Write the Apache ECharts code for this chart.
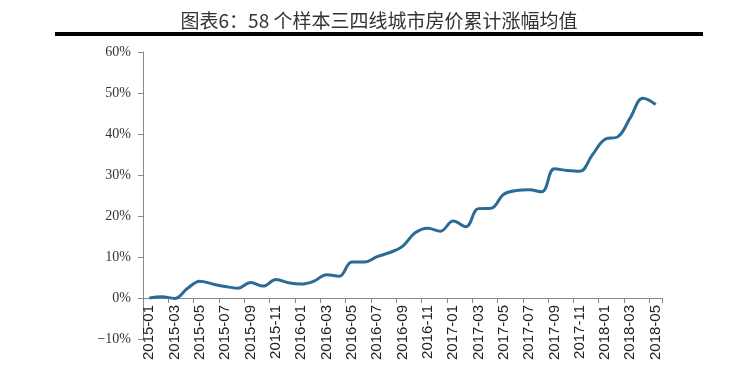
<!DOCTYPE html>
<html>
<head>
<meta charset="utf-8">
<script src="https://cdn.jsdelivr.net/npm/echarts@6/dist/echarts.min.js"></script>
<style>
html,body{margin:0;padding:0;background:#fff;}
#main{width:748px;height:385px;}
</style>
</head>
<body>
<div id="main"></div>
<script>
var titleText = '图表6：58 个样本三四线城市房价累计涨幅均值';
var categories = [
  '2015-01','2015-02','2015-03','2015-04','2015-05','2015-06','2015-07','2015-08','2015-09','2015-10','2015-11','2015-12',
  '2016-01','2016-02','2016-03','2016-04','2016-05','2016-06','2016-07','2016-08','2016-09','2016-10','2016-11','2016-12',
  '2017-01','2017-02','2017-03','2017-04','2017-05','2017-06','2017-07','2017-08','2017-09','2017-10','2017-11','2017-12',
  '2018-01','2018-02','2018-03','2018-04','2018-05'
];
var values = [
  0.0, 0.3, -0.1, 2.3, 4.1, 3.4, 2.8, 2.4, 3.8, 2.9, 4.5, 3.7,
  3.4, 4.1, 5.7, 5.3, 8.8, 8.8, 10.1, 11.1, 12.6, 15.9, 17.0, 16.3,
  18.8, 17.4, 21.8, 21.9, 25.3, 26.2, 26.4, 25.9, 31.5, 31.1, 30.9, 34.9,
  38.7, 39.3, 44.0, 48.7, 47.2
];
var yTicks = [-10, 0, 10, 20, 30, 40, 50, 60];

var chart = echarts.init(document.getElementById('main'), null, {renderer: 'canvas'});
chart.setOption({
  backgroundColor: '#ffffff',
  animation: false,
  graphic: [
    {type: 'text', x: 379, y: 21, style: {text: titleText, align: 'center', verticalAlign: 'middle', font: '19px "Noto Sans CJK SC"', fill: '#333333'}},
    {type: 'rect', shape: {x: 55, y: 32, width: 648, height: 4}, style: {fill: '#000000'}}
  ],
  grid: {left: 143, right: 86, top: 52, bottom: 46, containLabel: false, outerBoundsMode: 'none'},
  xAxis: {
    type: 'category',
    data: categories,
    boundaryGap: true,
    axisLine: {onZero: true, lineStyle: {color: '#8a8a8a', width: 1}},
    axisTick: {show: true, interval: 1, length: 5, lineStyle: {color: '#8a8a8a'}},
    axisLabel: {interval: 1, rotate: 90, margin: -34, fontSize: 15, color: '#222222', fontFamily: 'Liberation Sans'},
    splitLine: {show: false}
  },
  yAxis: {
    type: 'value',
    min: yTicks[0],
    max: yTicks[yTicks.length - 1],
    interval: 10,
    axisLine: {show: true, lineStyle: {color: '#8a8a8a', width: 1}},
    axisTick: {show: true, length: 5, lineStyle: {color: '#8a8a8a'}},
    axisLabel: {
      margin: 12, fontSize: 14, color: '#333333', fontFamily: 'Liberation Serif',
      formatter: function (v) { return (v < 0 ? '\u2212' + Math.abs(v) : v) + '%'; }
    },
    splitLine: {show: false}
  },
  series: [{
    type: 'line',
    data: values,
    smooth: 0.4,
    symbol: 'none',
    lineStyle: {color: '#2c6b95', width: 3}
  }]
});
</script>
</body>
</html>
